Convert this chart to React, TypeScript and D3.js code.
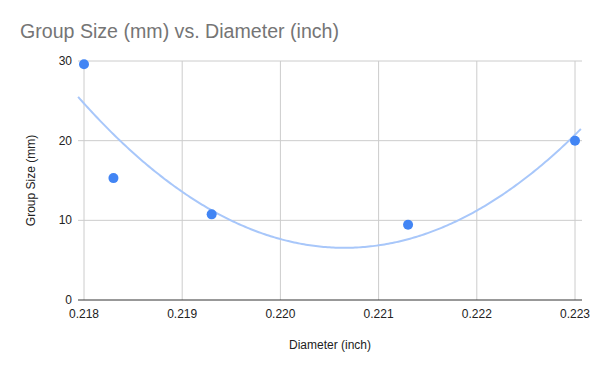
import React from "react";
import * as d3 from "d3";

const diameters = [0.218, 0.2183, 0.2193, 0.2213, 0.223];
const groupSizes = [29.6, 15.3, 10.75, 9.45, 20];
const xTicks = [0.218, 0.219, 0.22, 0.221, 0.222, 0.223];
const yTicks = [0, 10, 20, 30];

function quadFit(xs: number[], ys: number[], x0: number) {
  const u = xs.map((x) => (x - x0) * 1000);
  const S = (f: (i: number) => number) => u.reduce((s, _, i) => s + f(i), 0);
  const s0 = u.length, s1 = S((i) => u[i]), s2 = S((i) => u[i] ** 2), s3 = S((i) => u[i] ** 3), s4 = S((i) => u[i] ** 4);
  const t0 = S((i) => ys[i]), t1 = S((i) => u[i] * ys[i]), t2 = S((i) => u[i] ** 2 * ys[i]);
  const M = [[s0, s1, s2, t0], [s1, s2, s3, t1], [s2, s3, s4, t2]];
  for (let c = 0; c < 3; c++) {
    for (let r = c + 1; r < 3; r++) {
      const f = M[r][c] / M[c][c];
      for (let k = c; k < 4; k++) M[r][k] -= f * M[c][k];
    }
  }
  const coef = [0, 0, 0];
  for (let r = 2; r >= 0; r--) {
    let v = M[r][3];
    for (let k = r + 1; k < 3; k++) v -= M[r][k] * coef[k];
    coef[r] = v / M[r][r];
  }
  return (x: number) => {
    const uu = (x - x0) * 1000;
    return coef[0] + coef[1] * uu + coef[2] * uu * uu;
  };
}

export default function App() {
  const W = 600, H = 371;
  const left = 84, right = 575, top = 61, bottom = 300;
  const x = d3.scaleLinear().domain([0.218, 0.223]).range([left, right]);
  const y = d3.scaleLinear().domain([0, 30]).range([bottom, top]);
  const fit = quadFit(diameters, groupSizes, 0.218);
  const trendXs = d3.range(0.21794, 0.22306, 0.00002);
  const line = d3.line<number>().x((d) => x(d)).y((d) => y(fit(d))).curve(d3.curveLinear);
  const font = "Arial, 'Liberation Sans', sans-serif";
  return (
    <svg width={W} height={H} style={{ position: "absolute", left: 0, top: 0, background: "#fff" }}>
      <rect width={W} height={H} fill="#fff" />
      <text x={20} y={38} fontFamily={font} fontSize={19.6} fill="#757575">Group Size (mm) vs. Diameter (inch)</text>
      {xTicks.map((t) => (
        <line key={"vx" + t} x1={x(t)} x2={x(t)} y1={top} y2={bottom} stroke="#cccccc" strokeWidth={1} />
      ))}
      {yTicks.filter((t) => t !== 0).map((t) => (
        <line key={"hy" + t} x1={78} x2={582} y1={y(t)} y2={y(t)} stroke="#cccccc" strokeWidth={1} />
      ))}
      <line x1={78} x2={582} y1={bottom} y2={bottom} stroke="#333333" strokeWidth={1} />
      {yTicks.map((t) => (
        <text key={"yl" + t} x={72} y={y(t) + 4} textAnchor="end" fontFamily={font} fontSize={12} fill="#222">{t}</text>
      ))}
      {xTicks.map((t) => (
        <text key={"xl" + t} x={x(t)} y={318} textAnchor="middle" fontFamily={font} fontSize={12} fill="#222">{d3.format(".3f")(t)}</text>
      ))}
      <text x={330} y={349} textAnchor="middle" fontFamily={font} fontSize={12} fill="#222">Diameter (inch)</text>
      <text transform={`translate(35, ${(top + bottom) / 2}) rotate(-90)`} textAnchor="middle" fontFamily={font} fontSize={12} fill="#222">Group Size (mm)</text>
      <path d={line(trendXs) || ""} fill="none" stroke="#a8c7fa" strokeWidth={2} />
      {diameters.map((d, i) => (
        <circle key={"p" + i} cx={x(d)} cy={y(groupSizes[i])} r={5} fill="#4285f4" />
      ))}
    </svg>
  );
}
